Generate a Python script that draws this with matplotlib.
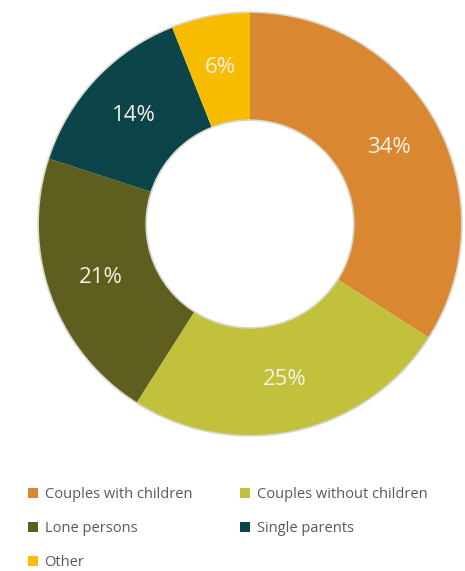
import matplotlib
matplotlib.use("Agg")
import matplotlib.pyplot as plt
from matplotlib.patches import Patch

categories = ["Couples with children", "Couples without children", "Lone persons",
              "Single parents", "Other"]
shares = [34, 25, 21, 14, 6]
colors = ["#D98831", "#C2C13C", "#5E5E1E", "#0B4449", "#F7BC00"]

plt.rcParams['font.family'] = ['Open Sans', 'DejaVu Sans']

fig = plt.figure(figsize=(4.65, 5.71), dpi=100)
ax = fig.add_axes([36 / 465, 133 / 571, 428 / 465, 428 / 571])

wedges, texts = ax.pie(
    shares, colors=colors, startangle=90, counterclock=False,
    labels=[f"{v}%" for v in shares], labeldistance=0.75,
    wedgeprops=dict(width=0.51, edgecolor="none"),
    textprops=dict(color="#F3F1E6", fontsize=16, ha="center", va="center"),
)
# faint grey rim around the ring
ax.add_patch(plt.Circle((0, 0), 1.0, fill=False, ec="#D8D8D0", lw=1.2))
ax.add_patch(plt.Circle((0, 0), 0.49, fill=False, ec="#D8D8D0", lw=1.2))
ax.set_xlim(-1.01, 1.01)
ax.set_ylim(-1.01, 1.01)
ax.set_aspect("equal")
ax.axis("off")

# row-major order for a 2-column legend
order = [0, 2, 4, 1, 3]
handles = [Patch(facecolor=colors[i], edgecolor="none") for i in order]
labels = [categories[i] for i in order]
fig.legend(handles, labels, loc="upper left", bbox_to_anchor=(22 / 465, 1 - 481 / 571),
           ncol=2, frameon=False, fontsize=10.5, labelcolor="#595959",
           handlelength=0.7, handleheight=0.7, handletextpad=0.45,
           labelspacing=1.3, columnspacing=3.3, borderaxespad=0)

fig.savefig("out.png", dpi=100, facecolor="white")
